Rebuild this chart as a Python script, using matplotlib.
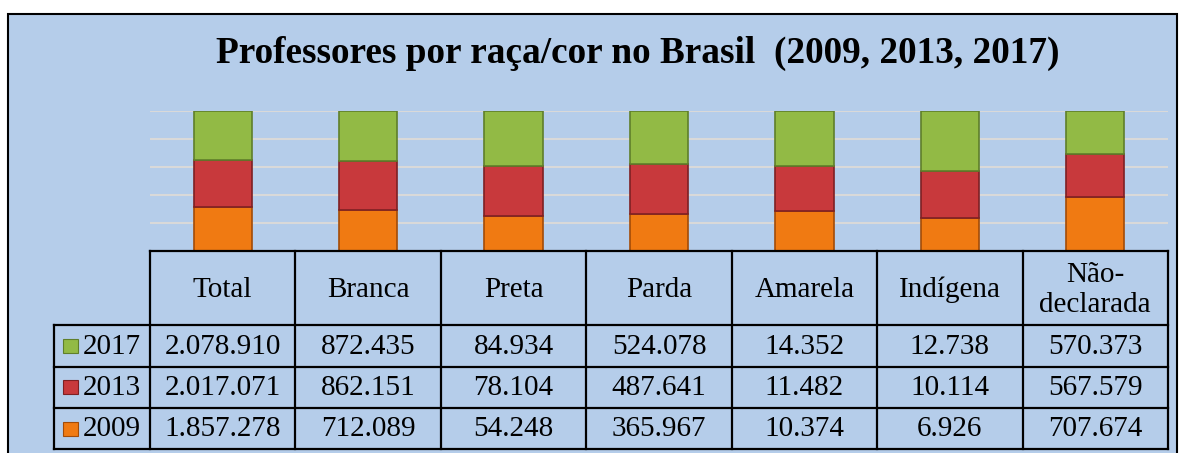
import numpy as np
import matplotlib
matplotlib.use('Agg')
from matplotlib import pyplot as plt
from matplotlib.patches import Rectangle

categories = ["Total", "Branca", "Preta", "Parda", "Amarela", "Indígena", "Não-\ndeclarada"]
years = ["2017", "2013", "2009"]
v2017 = [2078910, 872435, 84934, 524078, 14352, 12738, 570373]
v2013 = [2017071, 862151, 78104, 487641, 11482, 10114, 567579]
v2009 = [1857278, 712089, 54248, 365967, 10374, 6926, 707674]

colors = {"2017": "#92BA45", "2013": "#C8393C", "2009": "#F07A12"}
edges = {"2017": "#5F7F2A", "2013": "#7E2023", "2009": "#A34C08"}
bg = "#B5CDEA"

def fmt(v):
    return f"{v:,}".replace(",", ".")

W, H = 1185, 453
fig = plt.figure(figsize=(W / 100, H / 100), dpi=100)
fig.patch.set_facecolor("white")

# blue chart frame (behind everything)
frame = Rectangle((8 / W, -0.05), (1177 - 8) / W, (H - 14) / H + 0.05,
                  transform=fig.transFigure, facecolor=bg, edgecolor="black", lw=1.5, zorder=-10)
fig.patches.append(frame)

fig.text(638 / W, 1 - 53 / H, "Professores por raça/cor no Brasil  (2009, 2013, 2017)",
         ha="center", va="center", fontsize=26.8, fontweight="bold", family="Liberation Serif")

# bars: 100% stacked
ax = fig.add_axes([150 / W, 1 - 251 / H, (1168 - 150) / W, 140 / H])
ax.set_facecolor("none")
x = np.arange(len(categories))
tot = np.array(v2017) + np.array(v2013) + np.array(v2009)
p09 = np.array(v2009) / tot * 100
p13 = np.array(v2013) / tot * 100
p17 = np.array(v2017) / tot * 100
for yv in range(20, 101, 20):
    ax.axhline(yv, color="#D9D9D9", lw=1.5, zorder=0)
bottom = np.zeros(len(categories))
for yr, p in [("2009", p09), ("2013", p13), ("2017", p17)]:
    ax.bar(x, p, width=0.4, bottom=bottom, color=colors[yr], edgecolor=edges[yr], lw=1.2, zorder=2)
    bottom += p
ax.set_xlim(-0.5, len(categories) - 0.5)
ax.set_ylim(0, 100)
ax.axis("off")

# data table
tx = fig.add_axes([54 / W, 1 - 449 / H, (1168 - 54) / W, (449 - 251) / H])
tx.set_facecolor("none")
leg_w = 96 / 145.4
tx.set_xlim(-0.5 - leg_w, len(categories) - 0.5)
tx.set_ylim(198, 0)
tx.axis("off")
rows = [0, 74, 115.5, 157, 198]
lw = 1.6
tx.plot([-0.5, len(categories) - 0.5], [0, 0], color="black", lw=lw, clip_on=False)
for r in rows[1:]:
    tx.plot([-0.5 - leg_w, len(categories) - 0.5], [r, r], color="black", lw=lw, clip_on=False)
tx.plot([-0.5 - leg_w] * 2, [74, 198], color="black", lw=lw, clip_on=False)
for c in range(len(categories) + 1):
    tx.plot([c - 0.5] * 2, [0, 198], color="black", lw=lw, clip_on=False)

tfont = dict(family="Liberation Serif", fontsize=21)
for i, cat in enumerate(categories):
    tx.text(i, 39, cat, ha="center", va="center", linespacing=1.15, **tfont)
for j, (yr, vals) in enumerate(zip(years, [v2017, v2013, v2009])):
    yc = (rows[j + 1] + rows[j + 2]) / 2
    for i, v in enumerate(vals):
        tx.text(i, yc + 1, fmt(v), ha="center", va="center", **tfont)
    tx.add_patch(Rectangle((-0.5 - leg_w + 0.065, yc - 7), 0.1, 14,
                           facecolor=colors[yr], edgecolor=edges[yr], lw=0.8))
    tx.text(-0.5 - leg_w + 0.2, yc + 1, yr, ha="left", va="center", **tfont)

fig.savefig("out.png", dpi=100)
